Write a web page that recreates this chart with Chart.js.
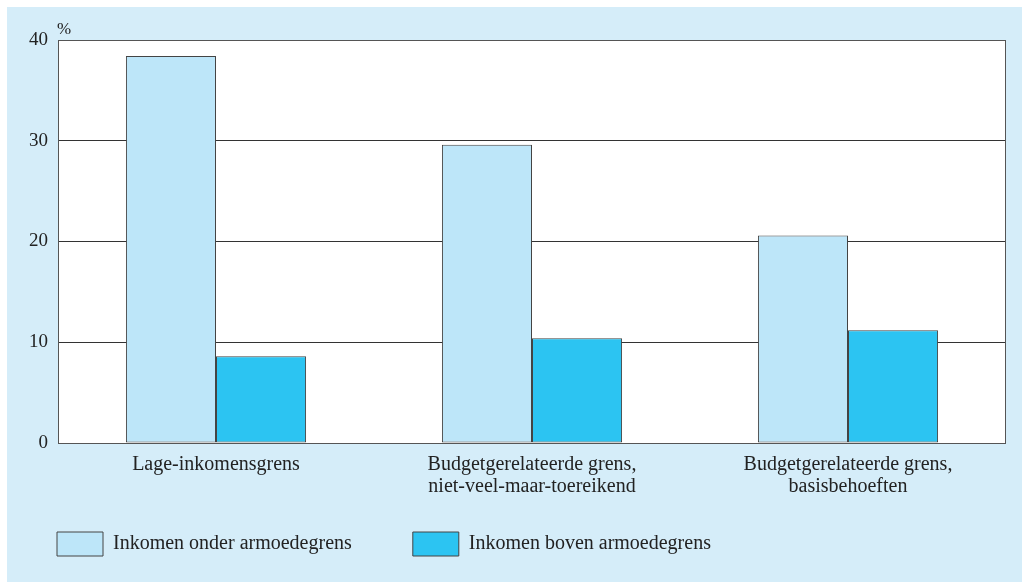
<!DOCTYPE html>
<html>
<head>
<meta charset="utf-8">
<script src="https://cdn.jsdelivr.net/npm/chart.js@4.4.1/dist/chart.umd.min.js"></script>
<style>
  html, body { margin: 0; padding: 0; background: #fff; }
  #wrap { position: absolute; left: 7px; top: 7px; width: 1015px; height: 575px; background: #d5edf9; }
</style>
</head>
<body>
<div id="wrap"><canvas id="chart" width="1015" height="575"></canvas></div>
<script>
const categories = [
  'Lage-inkomensgrens',
  ['Budgetgerelateerde grens,', 'niet-veel-maar-toereikend'],
  ['Budgetgerelateerde grens,', 'basisbehoeften']
];
const onderArmoedegrens = [38.4, 29.6, 20.6];
const bovenArmoedegrens = [8.6, 10.4, 11.2];
const yTicks = [0, 10, 20, 30, 40];

const FONT = 'Liberation Serif';

// white plot area, outer frame and the "%" unit label
const plotFrame = {
  id: 'plotFrame',
  afterLayout(chart) {
    // the x axis box is kept short so the legend sits high enough;
    // widen its clip area so the two-line labels are not cut off
    const x = chart.scales.x;
    x.bottom = x.top + 70;
  },
  beforeDraw(chart) {
    const { ctx, chartArea: a } = chart;
    ctx.save();
    ctx.fillStyle = '#fff';
    ctx.fillRect(a.left, a.top, a.right - a.left, a.bottom - a.top);
    ctx.restore();
  },
  afterDraw(chart) {
    const { ctx, chartArea: a } = chart;
    ctx.save();
    ctx.strokeStyle = '#555';
    ctx.lineWidth = 1;
    ctx.strokeRect(a.left + 0.5, a.top + 0.5, a.right - a.left - 1, a.bottom - a.top);
    ctx.fillStyle = '#222';
    ctx.font = '17px "' + FONT + '"';
    ctx.textBaseline = 'alphabetic';
    ctx.fillText('%', a.left - 1, a.top - 6);
    ctx.restore();
  }
};

new Chart(document.getElementById('chart'), {
  type: 'bar',
  data: {
    labels: categories,
    datasets: [
      {
        label: 'Inkomen onder armoedegrens',
        data: onderArmoedegrens,
        backgroundColor: '#bde6f9',
        borderColor: '#444',
        borderWidth: 1,
        borderSkipped: false,
        categoryPercentage: 0.57,
        barPercentage: 1.0
      },
      {
        label: 'Inkomen boven armoedegrens',
        data: bovenArmoedegrens,
        backgroundColor: '#2cc4f2',
        borderColor: '#444',
        borderWidth: 1,
        borderSkipped: false,
        categoryPercentage: 0.57,
        barPercentage: 1.0
      }
    ]
  },
  options: {
    responsive: false,
    animation: false,
    // negative left padding pulls the legend start in, y axis width makes up for it
    layout: { padding: { left: -11, right: 16, top: 33, bottom: 16 } },
    plugins: {
      tooltip: { enabled: false },
      legend: {
        position: 'bottom',
        align: 'start',
        labels: {
          boxWidth: 46,
          boxHeight: 24,
          padding: 61,
          color: '#222',
          font: { family: FONT, size: 20 }
        }
      }
    },
    scales: {
      x: {
        grid: { display: false, drawTicks: false },
        border: { display: false },
        ticks: {
          color: '#222',
          padding: 11,
          maxRotation: 0,
          font: { family: FONT, size: 20, lineHeight: 1.1 }
        },
        afterFit(scale) { scale.height = 28; }
      },
      y: {
        min: 0,
        max: 40,
        afterBuildTicks(scale) { scale.ticks = yTicks.map(v => ({ value: v })); },
        grid: { color: '#333', lineWidth: 1, drawTicks: false },
        border: { display: false },
        ticks: {
          color: '#222',
          padding: 10,
          font: { family: FONT, size: 19 }
        },
        afterFit(scale) { scale.width = 62; }
      }
    }
  },
  plugins: [plotFrame]
});
</script>
</body>
</html>
